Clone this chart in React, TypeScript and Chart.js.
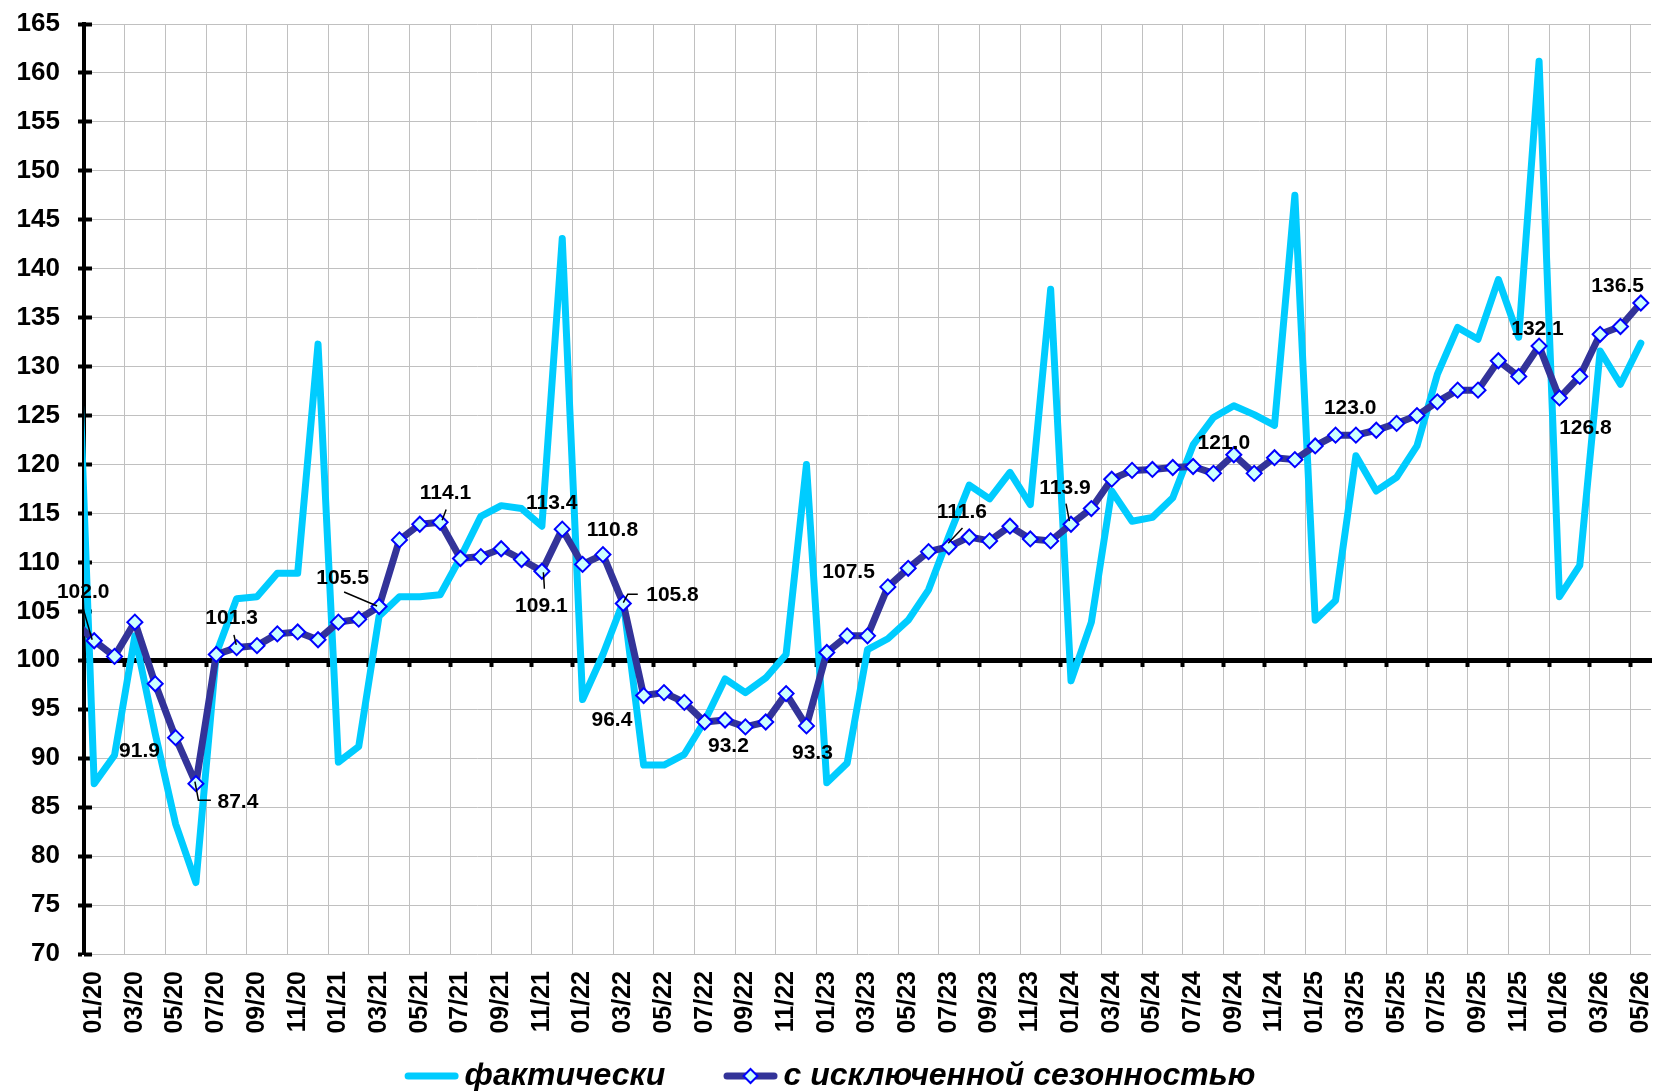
import React, { useEffect, useRef } from 'react';
import { Chart, registerables } from 'chart.js';

Chart.register(...registerables);

const FONT = "'Liberation Sans', Arial, sans-serif";

const categories: string[] = [
  '12/19',
  '01/20', '02/20', '03/20', '04/20', '05/20', '06/20', '07/20', '08/20', '09/20', '10/20', '11/20', '12/20',
  '01/21', '02/21', '03/21', '04/21', '05/21', '06/21', '07/21', '08/21', '09/21', '10/21', '11/21', '12/21',
  '01/22', '02/22', '03/22', '04/22', '05/22', '06/22', '07/22', '08/22', '09/22', '10/22', '11/22', '12/22',
  '01/23', '02/23', '03/23', '04/23', '05/23', '06/23', '07/23', '08/23', '09/23', '10/23', '11/23', '12/23',
  '01/24', '02/24', '03/24', '04/24', '05/24', '06/24', '07/24', '08/24', '09/24', '10/24', '11/24', '12/24',
  '01/25', '02/25', '03/25', '04/25', '05/25', '06/25', '07/25', '08/25', '09/25', '10/25', '11/25', '12/25',
  '01/26', '02/26', '03/26', '04/26', '05/26',
];

// фактически
const actual: number[] = [
  145.0,
  87.4, 90.3, 102.5, 92.5, 83.3, 77.3, 100.7, 106.3, 106.5, 108.9, 108.9, 132.3,
  89.6, 91.2, 104.5, 106.5, 106.5, 106.7, 110.5, 114.7, 115.8, 115.5, 113.7, 143.1,
  96.0, 100.6, 106.0, 89.3, 89.3, 90.4, 93.8, 98.1, 96.7, 98.2, 100.6, 120.0,
  87.5, 89.5, 101.1, 102.2, 104.1, 107.2, 112.7, 117.9, 116.5, 119.2, 115.9, 137.9,
  97.9, 103.9, 117.3, 114.2, 114.6, 116.6, 122.0, 124.8, 126.0, 125.1, 124.0, 147.5,
  104.1, 106.1, 120.9, 117.3, 118.7, 121.9, 129.2, 134.0, 132.8, 138.9, 133.0, 161.2,
  106.5, 109.7, 131.6, 128.2, 132.4,
];

// с исключенной сезонностью
const seasonal: number[] = [
  104.0,
  102.0, 100.4, 103.9, 97.6, 92.1, 87.4, 100.6, 101.3, 101.5, 102.7, 102.9, 102.1,
  103.9, 104.2, 105.5, 112.3, 113.9, 114.1, 110.4, 110.6, 111.4, 110.3, 109.1, 113.4,
  109.8, 110.8, 105.8, 96.4, 96.7, 95.7, 93.7, 93.9, 93.2, 93.7, 96.6, 93.3,
  100.8, 102.5, 102.5, 107.5, 109.4, 111.1, 111.6, 112.6, 112.2, 113.7, 112.4, 112.2,
  113.9, 115.5, 118.5, 119.4, 119.5, 119.7, 119.8, 119.1, 121.0, 119.1, 120.7, 120.5,
  121.9, 123.0, 123.0, 123.5, 124.2, 125.0, 126.4, 127.6, 127.6, 130.6, 129.0, 132.1,
  126.8, 129.0, 133.3, 134.1, 136.5,
];

const xTickLabels: string[] = [
  '01/20', '03/20', '05/20', '07/20', '09/20', '11/20',
  '01/21', '03/21', '05/21', '07/21', '09/21', '11/21',
  '01/22', '03/22', '05/22', '07/22', '09/22', '11/22',
  '01/23', '03/23', '05/23', '07/23', '09/23', '11/23',
  '01/24', '03/24', '05/24', '07/24', '09/24', '11/24',
  '01/25', '03/25', '05/25', '07/25', '09/25', '11/25',
  '01/26', '03/26', '05/26',
];

const Y_MIN = 70;
const Y_MAX = 165;
const Y_STEP = 5;
const BASE_LINE = 100;

const seriesNames = ['фактически', 'с исключенной сезонностью'];

// value labels: category, series (0 = фактически, 1 = сезонность), text, placement offsets
const valueLabels = [
  { cat: '01/20', s: 1, text: '102.0', dx: -11, dy: -49, leader: [[-11, -32], [-2, -1]] },
  { cat: '02/20', s: 0, text: '91.9', dx: 25, dy: -4 },
  { cat: '06/20', s: 1, text: '87.4', dx: 42, dy: 19, leader: [[-1, -2], [2.5, 16.5], [15, 16.5]] },
  { cat: '08/20', s: 1, text: '101.3', dx: -5, dy: -29, leader: [[-2.7, -12.7], [-0.4, -2.7]] },
  { cat: '03/21', s: 1, text: '105.5', dx: -36.5, dy: -28.5, leader: [[-35, -14.5], [-2, -0.5]] },
  { cat: '06/21', s: 1, text: '114.1', dx: 5.4, dy: -29, leader: [[6, -12.7], [2, -2]] },
  { cat: '12/21', s: 1, text: '113.4', dx: -10.6, dy: -26.3 },
  { cat: '11/21', s: 1, text: '109.1', dx: -0.5, dy: 35, leader: [[1.5, 1], [2.5, 17.5]] },
  { cat: '02/22', s: 1, text: '110.8', dx: 9.5, dy: -24.5 },
  { cat: '03/22', s: 1, text: '105.8', dx: 49.2, dy: -7.9, leader: [[0, -1], [4.5, -9.4], [14.5, -9.4]] },
  { cat: '04/22', s: 1, text: '96.4', dx: -31.7, dy: 24.5 },
  { cat: '09/22', s: 1, text: '93.2', dx: -17, dy: 19 },
  { cat: '12/22', s: 1, text: '93.3', dx: 6, dy: 27 },
  { cat: '04/23', s: 1, text: '107.5', dx: -39.3, dy: -14.6 },
  { cat: '07/23', s: 1, text: '111.6', dx: 13, dy: -35, leader: [[13.6, -18.7], [-0.7, -3.6]] },
  { cat: '01/24', s: 1, text: '113.9', dx: -6, dy: -36.5, leader: [[-5, -20.6], [-1.6, -3.2]] },
  { cat: '09/24', s: 1, text: '121.0', dx: -10, dy: -12 },
  { cat: '03/25', s: 1, text: '123.0', dx: -5.7, dy: -26.6 },
  { cat: '12/25', s: 1, text: '132.1', dx: -1.6, dy: -17.3 },
  { cat: '01/26', s: 1, text: '126.8', dx: 26, dy: 30.6 },
  { cat: '05/26', s: 1, text: '136.5', dx: -23.2, dy: -17 },
];

const CYAN = '#00CCFF';
const NAVY = '#333399';
const DIAMOND_FILL = '#CCFFFF';
const DIAMOND_EDGE = '#0000FF';
const GRID = '#c0c0c0';
const LEGEND_BOX_W = 53;
const LEGEND_SAMPLE_START = 9;
const LEGEND_SAMPLE_LEN = 54;

const valueLabelPlugin = {
  id: 'valueLabels',
  afterDatasetsDraw(chart: any) {
    const ctx = chart.ctx;
    ctx.save();
    ctx.font = `bold 21px ${FONT}`;
    ctx.fillStyle = '#000';
    ctx.strokeStyle = '#000';
    ctx.lineWidth = 1.5;
    ctx.textAlign = 'center';
    ctx.textBaseline = 'middle';
    for (const a of valueLabels) {
      const idx = categories.indexOf(a.cat);
      const el = chart.getDatasetMeta(a.s).data[idx];
      if (!el) continue;
      const { x, y } = el;
      if (a.leader) {
        ctx.beginPath();
        a.leader.forEach(([dx, dy]: number[], k: number) => {
          if (k === 0) ctx.moveTo(x + dx, y + dy);
          else ctx.lineTo(x + dx, y + dy);
        });
        ctx.stroke();
      }
      ctx.fillText(a.text, x + a.dx, y + a.dy);
    }
    ctx.restore();
  },
};

// legend samples: a thick line for each series, with a diamond marker for the seasonal series
const legendMarkerPlugin = {
  id: 'legendMarker',
  afterDraw(chart: any) {
    const legend = chart.legend;
    if (!legend || !legend.legendHitBoxes) return;
    const ctx = chart.ctx;
    const colors = [CYAN, NAVY];
    legend.legendHitBoxes.forEach((hb: any, i: number) => {
      const x0 = hb.left + LEGEND_SAMPLE_START;
      const x1 = x0 + LEGEND_SAMPLE_LEN;
      const cy = hb.top + hb.height / 2;
      ctx.save();
      ctx.lineCap = 'round';
      ctx.lineWidth = 7;
      ctx.strokeStyle = colors[i];
      ctx.beginPath();
      ctx.moveTo(x0 + 3.5, cy);
      ctx.lineTo(x1 - 3.5, cy);
      ctx.stroke();
      if (i === 1) {
        const cx = (x0 + x1) / 2;
        const r = 7;
        ctx.beginPath();
        ctx.moveTo(cx, cy - r);
        ctx.lineTo(cx + r, cy);
        ctx.lineTo(cx, cy + r);
        ctx.lineTo(cx - r, cy);
        ctx.closePath();
        ctx.fillStyle = DIAMOND_FILL;
        ctx.fill();
        ctx.lineWidth = 2;
        ctx.lineCap = 'butt';
        ctx.strokeStyle = DIAMOND_EDGE;
        ctx.stroke();
      }
      ctx.restore();
    });
  },
};

export default function App() {
  const canvasRef = useRef<HTMLCanvasElement | null>(null);

  useEffect(() => {
    document.body.style.margin = '0';
    const canvas = canvasRef.current;
    if (!canvas) return;

    const labelIdx = xTickLabels.map((l) => categories.indexOf(l));
    const gridIdx = labelIdx.slice(1).map((i) => i - 0.5);
    const xMin = categories.indexOf('01/20') - 0.5;
    const xMax = categories.length - 0.5;

    const chart = new Chart(canvas, {
      type: 'line',
      data: {
        datasets: [
          {
            label: seriesNames[0],
            data: categories.map((_, i) => ({ x: i, y: actual[i] })),
            borderColor: CYAN,
            backgroundColor: CYAN,
            borderWidth: 7,
            pointRadius: 0,
            pointHoverRadius: 0,
            tension: 0,
            borderJoinStyle: 'round',
            borderCapStyle: 'round',
            order: 1,
            xAxisID: 'x',
            yAxisID: 'y',
          },
          {
            label: seriesNames[1],
            data: categories.map((_, i) => ({ x: i, y: seasonal[i] })),
            borderColor: NAVY,
            backgroundColor: NAVY,
            borderWidth: 7,
            tension: 0,
            borderJoinStyle: 'round',
            pointStyle: 'rectRot',
            pointRadius: 7.5,
            pointHoverRadius: 7.5,
            pointBackgroundColor: DIAMOND_FILL,
            pointBorderColor: DIAMOND_EDGE,
            pointBorderWidth: 2,
            order: 0,
            xAxisID: 'x',
            yAxisID: 'y',
          },
        ] as any,
      },
      options: {
        animation: false,
        responsive: false,
        maintainAspectRatio: false,
        events: [],
        layout: { autoPadding: false, padding: { top: 24, right: 2, bottom: -11, left: 0 } },
        plugins: {
          tooltip: { enabled: false },
          legend: {
            display: true,
            position: 'bottom',
            align: 'center',
            labels: {
              boxWidth: LEGEND_BOX_W,
              boxHeight: 7,
              padding: 25,
              color: '#000',
              font: { family: FONT, size: 32, weight: 'bold', style: 'italic' },
              generateLabels: (ch: any) =>
                ch.data.datasets.map((ds: any, i: number) => ({
                  // trailing spaces reproduce the wide gap between the two legend entries
                  text: i === 0 ? ds.label + '\u00A0\u00A0\u2009' : ds.label,
                  fillStyle: 'rgba(0,0,0,0)',
                  strokeStyle: 'rgba(0,0,0,0)',
                  lineWidth: 0,
                  hidden: false,
                  datasetIndex: i,
                  fontColor: '#000',
                })),
            },
          },
        },
        scales: {
          x: {
            type: 'linear',
            position: { y: BASE_LINE } as any,
            min: xMin,
            max: xMax,
            afterBuildTicks: (s: any) => {
              s.ticks = gridIdx.map((v) => ({ value: v }));
            },
            ticks: { display: false },
            grid: {
              color: GRID,
              lineWidth: 1,
              tickColor: '#000',
              tickLength: 4,
              tickWidth: 4,
            },
            border: { color: '#000', width: 5 },
          },
          xl: {
            type: 'linear',
            position: 'bottom',
            min: xMin,
            max: xMax,
            afterBuildTicks: (s: any) => {
              s.ticks = labelIdx.map((v) => ({ value: v }));
            },
            ticks: {
              autoSkip: false,
              minRotation: 90,
              maxRotation: 90,
              padding: 17,
              color: '#000',
              font: { family: FONT, size: 25, weight: 'bold' },
              callback: (v: any) => categories[v as number],
            },
            grid: { display: false, drawTicks: false },
            border: { display: false },
            afterFit: (s: any) => {
              s.height = 81;
              s.paddingLeft = 0;
              s.paddingRight = 0;
            },
          },
          y: {
            type: 'linear',
            position: 'left',
            min: Y_MIN,
            max: Y_MAX,
            ticks: {
              stepSize: Y_STEP,
              autoSkip: false,
              color: '#000',
              padding: 18,
              font: { family: FONT, size: 26, weight: 'bold' },
            },
            grid: {
              color: GRID,
              lineWidth: 1,
              tickColor: '#000',
              tickLength: 6,
              tickWidth: 4,
            },
            border: { color: '#000', width: 4 },
            afterFit: (s: any) => {
              s.width = 84;
              s.paddingTop = 0;
              s.paddingBottom = 0;
            },
          },
          yin: {
            type: 'linear',
            position: { x: xMin } as any,
            min: Y_MIN,
            max: Y_MAX,
            ticks: { stepSize: Y_STEP, display: false },
            grid: {
              drawOnChartArea: false,
              tickColor: '#000',
              tickLength: -8,
              tickWidth: 4,
            },
            border: { display: false },
          },
        },
      } as any,
      plugins: [valueLabelPlugin, legendMarkerPlugin],
    });

    return () => {
      chart.destroy();
    };
  }, []);

  return (
    <div style={{ position: 'absolute', left: 0, top: 0, width: 1653, height: 1091 }}>
      <canvas ref={canvasRef} width={1653} height={1091} style={{ width: 1653, height: 1091 }} />
    </div>
  );
}
